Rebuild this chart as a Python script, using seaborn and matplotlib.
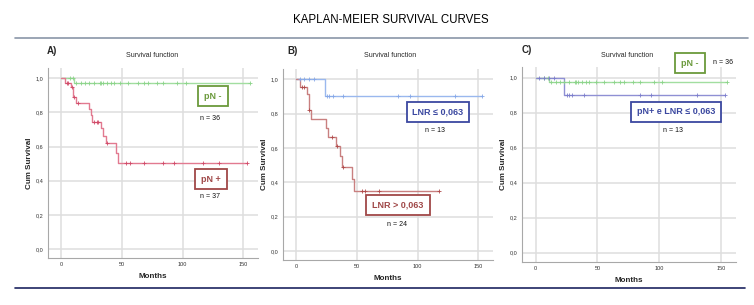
import numpy as np
import pandas as pd
import matplotlib
matplotlib.use("Agg")
import matplotlib.pyplot as plt
import seaborn as sns

sns.set_style("white")
plt.rcParams['font.family'] = ['Liberation Sans', 'DejaVu Sans']

# ---------------- data ----------------
# pN- (n = 36)  -- shared by panels A and C
pn_neg_t = [0, 10.7]
pn_neg_s = [1.0, 0.972]
pn_neg_end = 155.0
pn_neg_cens = [6.9, 9.7, 12.4, 16.3, 19.8, 22.6, 26.7, 31.7, 33.0, 34.4, 37.8, 40.5,
               43.2, 48.5, 55.0, 63.0, 68.0, 71.4, 78.5, 84.0, 95.6, 102.5, 155.0]

# pN+ (n = 37)
pn_pos_t = [0, 3.3, 8.3, 9.8, 12.1, 22.6, 24.3, 25.6, 32.8, 34.6, 36.6, 45.0, 46.8]
pn_pos_s = [1.0, 0.973, 0.946, 0.892, 0.857, 0.820, 0.784, 0.745, 0.706, 0.661, 0.622, 0.563, 0.505]
pn_pos_end = 152.9
pn_pos_cens = [4.5, 5.5, 9.0, 10.5, 13.5, 27.0, 29.2, 30.5, 38.0,
               52.9, 56.2, 68.0, 84.0, 92.8, 117.0, 129.5, 152.9]

# LNR <= 0,063 (n = 13) -- shared by panels B and C
lnr_low_t = [0, 23.2]
lnr_low_s = [1.0, 0.9]
lnr_low_end = 153.3
lnr_low_cens = [3.0, 6.5, 10.5, 14.5, 25.2, 26.9, 29.8, 38.8, 84.0, 93.5, 130.5, 153.3]

# LNR > 0,063 (n = 24)
lnr_high_t = [0, 3.3, 8.8, 10.2, 12.1, 24.4, 25.8, 32.7, 36.2, 37.4, 45.6, 47.2]
lnr_high_s = [1.0, 0.958, 0.917, 0.823, 0.771, 0.717, 0.665, 0.612, 0.551, 0.490, 0.420, 0.350]
lnr_high_end = 117.8
lnr_high_cens = [4.7, 6.6, 10.7, 29.4, 33.5, 38.2, 54.1, 56.8, 68.4, 117.8]

x_ticks = [0, 50, 100, 150]
y_ticks = [0.0, 0.2, 0.4, 0.6, 0.8, 1.0]
y_tick_labels = ["0,0", "0,2", "0,4", "0,6", "0,8", "1,0"]

W, H = 754, 305
fig = plt.figure(figsize=(W / 100, H / 100), dpi=100)


def fx(x):
    return x / W


def fy(y):
    return 1 - y / H


def add_ax(l, r, t, b):
    return fig.add_axes([fx(l), fy(b), (r - l) / W, (b - t) / H])


def km(ax, t, s, end, cens, line_color, mark_color, lw=1.0):
    tt = list(t) + [end]
    ss = list(s) + [s[-1]]
    df = pd.DataFrame({"t": tt, "s": ss})
    sns.lineplot(data=df, x="t", y="s", drawstyle="steps-post", color=line_color,
                 lw=lw, ax=ax, estimator=None, sort=False, zorder=3)
    idx = np.searchsorted(np.array(t), np.array(cens), side="right") - 1
    cs = np.array(s)[idx]
    cd = pd.DataFrame({"t": cens, "s": cs})
    sns.scatterplot(data=cd, x="t", y="s", marker="+", s=8, color=mark_color,
                    linewidth=0.6, ax=ax, zorder=4)


def style_ax(ax):
    ax.set_xlim(-11, 162)
    ax.set_ylim(-0.053, 1.06)
    ax.set_xticks(x_ticks)
    ax.set_xticklabels([str(v) for v in x_ticks], fontsize=4, color="#333333")
    ax.set_yticks(y_ticks)
    ax.set_yticklabels(y_tick_labels, fontsize=4, color="#333333")
    ax.tick_params(length=0, pad=3)
    ax.grid(True, color="#dedede", lw=1.1)
    ax.set_axisbelow(True)
    for sp in ["top", "right"]:
        ax.spines[sp].set_visible(False)
    for sp in ["left", "bottom"]:
        ax.spines[sp].set_color("#a8a8a8")
        ax.spines[sp].set_linewidth(0.8)
    ax.set_xlabel("Months", fontsize=5.8, fontweight="bold", labelpad=4)
    ax.set_ylabel("Cum Survival", fontsize=5.8, fontweight="bold", labelpad=2)


GREEN_L = "#a2dea0"
GREEN_M = "#8cd48a"
PINK_L = "#e27a90"
PINK_M = "#d04a68"
DRED_L = "#c98080"
DRED_M = "#b04a4a"
BLUE_L = "#9ab8ee"
BLUE_M = "#86a8e8"
PBLUE_L = "#8f90d4"
PBLUE_M = "#7c7ecc"

BOX_GREEN = "#6b9a3c"
BOX_RED = "#a04848"
BOX_BLUE = "#3b48a0"

# Panel A
axA = add_ax(48, 258, 68, 258)
km(axA, pn_neg_t, pn_neg_s, pn_neg_end, pn_neg_cens, GREEN_L, GREEN_M)
km(axA, pn_pos_t, pn_pos_s, pn_pos_end, pn_pos_cens, PINK_L, PINK_M)
style_ax(axA)

# Panel B
axB = add_ax(283, 493, 69, 260)
km(axB, lnr_low_t, lnr_low_s, lnr_low_end, lnr_low_cens, BLUE_L, BLUE_M)
km(axB, lnr_high_t, lnr_high_s, lnr_high_end, lnr_high_cens, DRED_L, DRED_M)
style_ax(axB)

# Panel C
axC = add_ax(522, 736, 67, 262)
km(axC, pn_neg_t, pn_neg_s, pn_neg_end, pn_neg_cens, GREEN_L, GREEN_M)
km(axC, lnr_low_t, lnr_low_s, lnr_low_end, lnr_low_cens, PBLUE_L, PBLUE_M)
style_ax(axC)

# header / footer lines
fig.add_artist(plt.Line2D([fx(15), fx(748)], [fy(37.5), fy(37.5)], color="#8a96a8", lw=1.2))
fig.add_artist(plt.Line2D([fx(15), fx(745)], [fy(288), fy(288)], color="#1c2460", lw=1.2))

fig.text(fx(391), fy(20), "KAPLAN-MEIER SURVIVAL CURVES", fontsize=8.3, ha="center",
         va="center", color="#000000")

for x, y, lab in [(52, 51, "A)"), (293, 51, "B)"), (527, 50, "C)")]:
    fig.text(fx(x), fy(y), lab, fontsize=7, fontweight="bold", ha="center", va="center")
for x in [152, 390, 627]:
    fig.text(fx(x), fy(56), "Survival function", fontsize=5, ha="center", va="center")


def boxlab(x, y, text, color):
    fig.text(fx(x), fy(y), text, fontsize=6.5, fontweight="bold", color=color,
             ha="center", va="center",
             bbox=dict(boxstyle="square,pad=0.65", fc="white", ec=color, lw=1.3))


def nlab(x, y, text):
    fig.text(fx(x), fy(y), text, fontsize=5, ha="center", va="center", color="#111111")


boxlab(213, 96, "pN -", BOX_GREEN)
nlab(210, 118, "n = 36")
boxlab(211, 179, "pN +", BOX_RED)
nlab(210, 197, "n = 37")

boxlab(438, 112, "LNR ≤ 0,063", BOX_BLUE)
nlab(435, 130, "n = 13")
boxlab(398, 205, "LNR > 0,063", BOX_RED)
nlab(397, 224, "n = 24")

boxlab(690, 63, "pN -", BOX_GREEN)
nlab(723, 63, "n = 36")
boxlab(676, 112, "pN+ e LNR ≤ 0,063", BOX_BLUE)
nlab(673, 130, "n = 13")

fig.savefig("out.png", dpi=100)
